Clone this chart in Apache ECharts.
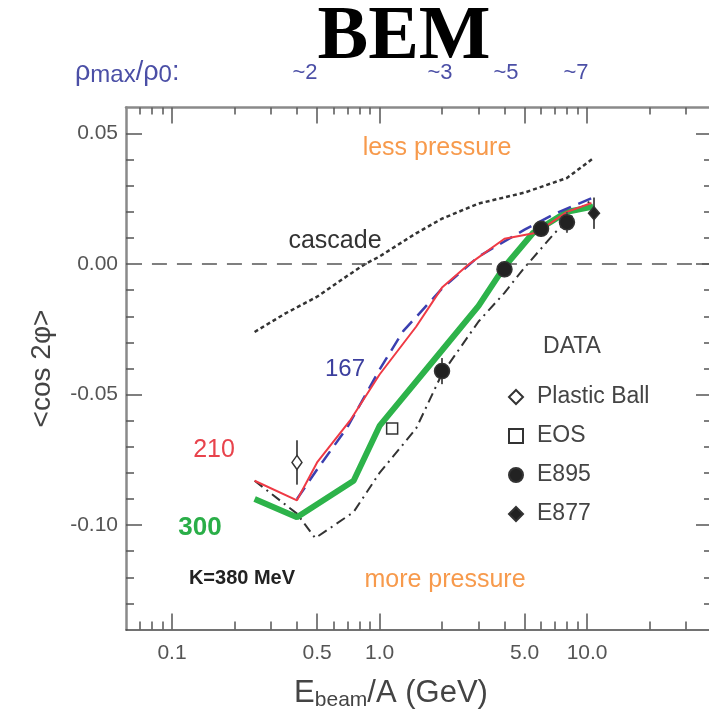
<!DOCTYPE html>
<html>
<head>
<meta charset="utf-8">
<script src="https://cdn.jsdelivr.net/npm/echarts@6/dist/echarts.min.js"></script>
<style>
  html, body { margin: 0; padding: 0; background: #fff; }
  #chart { width: 709px; height: 719px; }
</style>
</head>
<body>
<div id="chart"></div>
<script>
// tick values (beam energy, GeV per nucleon)
const xMajorTicks = [0.1, 0.5, 1, 5, 10]
const xMinorTicks = [0.07, 0.08, 0.09, 0.2, 0.3, 0.4, 0.6, 0.7, 0.8, 0.9, 2, 3, 4, 6, 7, 8, 9, 20, 30]
const yMajorTicks = [-0.1, -0.05, 0, 0.05]
const yMinorTicks = [-0.13, -0.12, -0.11, -0.09, -0.08, -0.07, -0.06, -0.04, -0.03, -0.02, -0.01, 0.01, 0.02, 0.03, 0.04]

// model curves
const cascadeE = [0.25, 0.35, 0.5, 0.7, 0.85, 1.0, 1.5, 2.0, 3.0, 5.0, 8.0, 10.7]
const cascadeV = [-0.026, -0.019, -0.0125, -0.0045, 0.0, 0.0029, 0.0118, 0.0174, 0.0232, 0.0274, 0.033, 0.0405]

const k210E = [0.25, 0.4, 0.5, 0.72, 1.0, 1.5, 2.0, 2.7, 4.0, 5.7, 8.0, 10.5]
const k210V = [-0.083, -0.0905, -0.076, -0.06, -0.0423, -0.024, -0.009, 0.0, 0.0097, 0.012, 0.02, 0.0234]

const k167E = [0.4, 0.5, 0.7, 1.0, 1.3, 2.0, 3.0, 5.0, 7.0, 10.7]
const k167V = [-0.09, -0.0787, -0.0625, -0.0404, -0.0257, -0.0094, 0.0029, 0.0132, 0.0193, 0.0255]

const k300E = [0.25, 0.4, 0.75, 1.0, 2.0, 3.0, 4.0, 5.5, 8.0, 10.7]
const k300V = [-0.09, -0.097, -0.083, -0.062, -0.033, -0.016, -0.001, 0.012, 0.02, 0.022]

const k380E = [0.25, 0.4, 0.49, 0.75, 1.0, 1.5, 2.0, 3.0, 4.0, 5.0, 7.0, 9.0, 10.7]
const k380V = [-0.083, -0.0956, -0.105, -0.095, -0.08, -0.063, -0.042, -0.022, -0.011, -0.0013, 0.012, 0.0205, 0.025]

// measurements
const plasticE = [0.4]
const plasticV = [-0.076]
const plasticErr = [0.0085]
const eosE = [1.15]
const eosV = [-0.063]
const eosErr = [0.002]
const e895E = [2, 4, 6, 8]
const e895V = [-0.041, -0.002, 0.0135, 0.016]
const e895Err = [0.005, 0.003, 0.003, 0.004]
const e877E = [10.8]
const e877V = [0.0195]
const e877Err = [0.006]

const zip = (xs, ys) => xs.map((x, i) => [x, ys[i]])
const bars = (xs, ys, es) => xs.map((x, i) => [x, ys[i] - es[i], ys[i] + es[i]])

const font = 'Liberation Sans, Arial, sans-serif'

const chart = echarts.init(document.getElementById('chart'))

function xAxisBase(pos, ticks, len, withLine, withLabel) {
  return {
    type: 'log',
    logBase: 10,
    min: 0.06,
    max: 40,
    position: pos,
    gridIndex: 0,
    axisLine: { show: withLine, onZero: false, lineStyle: { color: pos === 'bottom' ? '#444' : '#8a8a8a', width: pos === 'bottom' ? 1.5 : 2.5 } },
    axisTick: { show: true, inside: true, length: len, customValues: ticks, lineStyle: { color: '#555', width: 1.5 } },
    axisLabel: withLabel ? {
      show: true,
      customValues: xMajorTicks,
      margin: 13,
      color: '#555',
      fontSize: 21,
      fontFamily: font,
      formatter: v => (v < 1 ? String(v) : v.toFixed(1))
    } : { show: false },
    splitLine: { show: false },
    minorTick: { show: false }
  }
}

function yAxisBase(pos, ticks, len, withLine, withLabel) {
  return {
    type: 'value',
    min: -0.14,
    max: 0.06,
    position: pos,
    gridIndex: 0,
    axisLine: { show: withLine, onZero: false, lineStyle: { color: '#8a8a8a', width: 2.5 } },
    axisTick: { show: true, inside: true, length: len, customValues: ticks, lineStyle: { color: '#555', width: 1.5 } },
    axisLabel: withLabel ? {
      show: true,
      customValues: yMajorTicks,
      margin: 8,
      color: '#555',
      fontSize: 21,
      fontFamily: font,
      formatter: v => v.toFixed(2)
    } : { show: false },
    splitLine: { show: false }
  }
}

const xMain = xAxisBase('bottom', xMajorTicks, 16, true, true)
xMain.name = '{a|E}{b|beam}{a|/A (GeV)}'
xMain.nameLocation = 'middle'
xMain.nameGap = 46
xMain.nameTextStyle = {
  padding: [0, 56, 0, 0],
  rich: {
    a: { fontSize: 31, fontFamily: font, color: '#444' },
    b: { fontSize: 21, fontFamily: font, color: '#444', padding: [14, 0, 0, 0] }
  }
}

const yMain = yAxisBase('left', yMajorTicks, 16, true, true)
yMain.name = '<cos 2φ>'
yMain.nameLocation = 'middle'
yMain.nameGap = 70
yMain.nameTextStyle = { fontSize: 28, fontFamily: font, color: '#444' }

function lineSeries(name, e, v, style, z) {
  return {
    name: name,
    type: 'line',
    xAxisIndex: 0,
    yAxisIndex: 0,
    data: zip(e, v),
    showSymbol: false,
    symbol: 'none',
    smooth: false,
    z: z,
    lineStyle: style
  }
}

function errorSeries(data) {
  return {
    type: 'custom',
    xAxisIndex: 0,
    yAxisIndex: 0,
    z: 5,
    data: data,
    renderItem: (params, api) => {
      const p1 = api.coord([api.value(0), api.value(1)])
      const p2 = api.coord([api.value(0), api.value(2)])
      return {
        type: 'line',
        shape: { x1: p1[0], y1: p1[1], x2: p2[0], y2: p2[1] },
        style: { stroke: '#555', lineWidth: 2 }
      }
    }
  }
}

function pointSeries(name, e, v, symbol, size, fill) {
  return {
    name: name,
    type: 'scatter',
    xAxisIndex: 0,
    yAxisIndex: 0,
    z: 6,
    symbol: symbol,
    symbolSize: size,
    data: zip(e, v),
    itemStyle: { color: fill, borderColor: '#333', borderWidth: 1.5, opacity: 1 }
  }
}

function label(text, x, y, size, color, weight, family) {
  return {
    type: 'text',
    x: x,
    y: y,
    z: 20,
    style: {
      text: text,
      fontSize: size,
      fontFamily: family || font,
      fontWeight: weight || 'normal',
      fill: color,
      align: 'center',
      verticalAlign: 'middle'
    }
  }
}

const option = {
  backgroundColor: '#fff',
  animation: false,
  grid: { left: 126, top: 107.5, width: 586, height: 522, outerBoundsMode: 'none', containLabel: false },
  xAxis: [
    xMain,
    xAxisBase('bottom', xMinorTicks, 8, false, false),
    xAxisBase('top', xMajorTicks, 16, true, false),
    xAxisBase('top', xMinorTicks, 7, false, false)
  ],
  yAxis: [
    yMain,
    yAxisBase('left', yMinorTicks, 8, false, false),
    yAxisBase('right', yMajorTicks, 16, true, false),
    yAxisBase('right', yMinorTicks, 8, false, false)
  ],
  legend: {
    data: ['Plastic Ball', 'EOS', 'E895', 'E877'],
    orient: 'vertical',
    left: 503,
    top: 380,
    itemWidth: 14,
    itemHeight: 14,
    itemGap: 15,
    selectedMode: false,
    textStyle: { fontSize: 23, fontFamily: font, color: '#444', lineHeight: 24, padding: [0, 0, 0, 9] }
  },
  graphic: [
    label('BEM', 404, 38, 76, '#000', 'bold', 'Liberation Serif, Times New Roman, serif'),
    {
      type: 'text', x: 75, y: 73, z: 20,
      style: {
        text: '{r|ρ}{s|max}{r|/ρ}{s|0}{r|:}',
        fill: '#4b4fa6',
        align: 'left',
        verticalAlign: 'middle',
        rich: {
          r: { fontSize: 27, fontFamily: font, fill: '#4b4fa6' },
          s: { fontSize: 24, fontFamily: font, fill: '#4b4fa6', padding: [5, 0, 0, 0] }
        }
      }
    },
    label('~2', 305, 73, 22, '#4b4fa6'),
    label('~3', 440, 73, 22, '#4b4fa6'),
    label('~5', 506, 73, 22, '#4b4fa6'),
    label('~7', 576, 73, 22, '#4b4fa6'),
    label('less pressure', 437, 148, 25, '#f79a4c'),
    label('more pressure', 445, 580, 25, '#f79a4c'),
    label('cascade', 335, 241, 25, '#333'),
    label('167', 345, 369, 24, '#3c3f9e'),
    label('210', 214, 450, 25, '#e8434c'),
    label('300', 200, 528, 26, '#2aae48', 'bold'),
    label('K=380 MeV', 242, 578, 20, '#222', 'bold'),
    label('DATA', 572, 347, 23, '#444')
  ],
  series: [
    {
      type: 'line',
      data: [],
      markLine: {
        silent: true,
        symbol: 'none',
        label: { show: false },
        lineStyle: { type: [15, 10], color: '#555', width: 1.5 },
        data: [[{ coord: [0.08, 0] }, { coord: [40, 0] }]]
      }
    },
    lineSeries('cascade', cascadeE, cascadeV, { color: '#333', width: 2.5, type: [4, 3] }, 2),
    lineSeries('K=380', k380E, k380V, { color: '#333', width: 2, type: [10, 5, 2, 5] }, 2),
    lineSeries('K=300', k300E, k300V, { color: '#2db34a', width: 6 }, 3),
    lineSeries('K=167', k167E, k167V, { color: '#3b3fb0', width: 2.5, type: [14, 8] }, 3),
    lineSeries('K=210', k210E, k210V, { color: '#ef3a45', width: 2 }, 4),
    errorSeries(bars(plasticE, plasticV, plasticErr)),
    errorSeries(bars(eosE, eosV, eosErr)),
    errorSeries(bars(e895E, e895V, e895Err)),
    errorSeries(bars(e877E, e877V, e877Err)),
    pointSeries('Plastic Ball', plasticE, plasticV, 'diamond', [10, 14], '#fff'),
    pointSeries('EOS', eosE, eosV, 'rect', 11, '#fff'),
    pointSeries('E895', e895E, e895V, 'circle', 15, '#222'),
    pointSeries('E877', e877E, e877V, 'diamond', [11, 13], '#222')
  ]
}

chart.setOption(option)
</script>
</body>
</html>
